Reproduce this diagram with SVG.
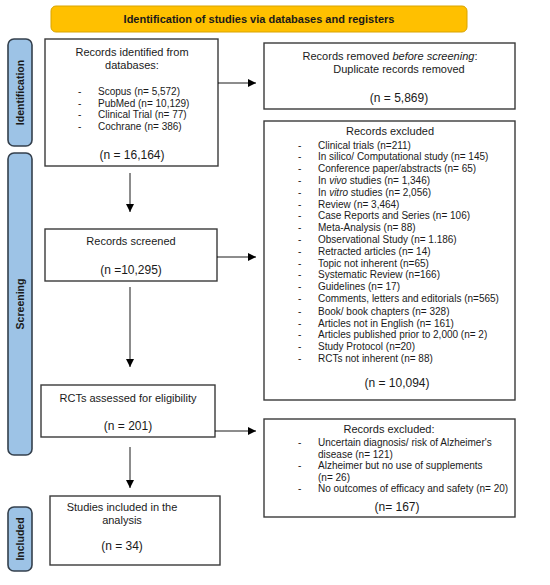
<svg xmlns="http://www.w3.org/2000/svg" width="550" height="585" viewBox="0 0 550 585">
<defs>
<marker id="ah" viewBox="0 0 10 10" refX="10" refY="5" markerWidth="8" markerHeight="8" markerUnits="userSpaceOnUse" orient="auto">
<path d="M0,0 L10,5 L0,10 z" fill="#000"/>
</marker>
<style>
text{font-family:"Liberation Sans",Arial,sans-serif;fill:#1a1a1a}
.box{fill:#fff;stroke:#3a3a3a;stroke-width:1.4}
.phase{fill:#9DC3E6;stroke:#34404d;stroke-width:1.6}
.plab{font-size:10.5px;font-weight:bold;text-anchor:middle}
.h{font-size:11px;text-anchor:middle}
.n{font-size:12px;text-anchor:middle}
.li{font-size:10px}
.c{fill:none;stroke:#000;stroke-width:0.9;marker-end:url(#ah)}
</style>
</defs>
<rect width="550" height="585" fill="#fff"/>

<g id="banner">
<rect x="51" y="6" width="416" height="26" rx="5" fill="#FFC000" stroke="#D9A400" stroke-width="1"/>
<text x="259" y="23" font-size="11" font-weight="bold" text-anchor="middle">Identification of studies via databases and registers</text>
</g>

<g id="phase-identification">
<rect class="phase" x="8" y="39" width="24" height="107" rx="6"/>
<text class="plab" transform="translate(24,92.5) rotate(-90)">Identification</text>
</g>
<g id="phase-screening">
<rect class="phase" x="8" y="153" width="24" height="302" rx="6"/>
<text class="plab" transform="translate(24,304) rotate(-90)">Screening</text>
</g>
<g id="phase-included">
<rect class="phase" x="8" y="507" width="24" height="64" rx="6"/>
<text class="plab" transform="translate(24,539) rotate(-90)">Included</text>
</g>

<g id="records-identified">
<rect class="box" x="45" y="39" width="173" height="127"/>
<text class="h" x="132" y="56">Records identified from</text>
<text class="h" x="132" y="69">databases:</text>
<text class="li" x="78" y="94.5">-</text><text class="li" x="98" y="94.5">Scopus (n= 5,572)</text>
<text class="li" x="78" y="106.5">-</text><text class="li" x="98" y="106.5">PubMed (n= 10,129)</text>
<text class="li" x="78" y="118">-</text><text class="li" x="98" y="118">Clinical Trial (n= 77)</text>
<text class="li" x="78" y="129.5">-</text><text class="li" x="98" y="129.5">Cochrane (n= 386)</text>
<text class="n" x="132" y="158.5">(n = 16,164)</text>
</g>

<g id="records-removed">
<rect class="box" x="264" y="43" width="251" height="66"/>
<text class="h" x="390" y="60">Records removed <tspan font-style="italic">before screening</tspan>:</text>
<text class="h" x="399" y="73">Duplicate records removed</text>
<text class="n" x="399" y="101.5">(n = 5,869)</text>
</g>

<g id="records-excluded-1">
<rect class="box" x="264" y="121" width="251" height="279"/>
<text class="h" x="390" y="135">Records excluded</text>
<text class="li" x="298" y="148.5">-</text><text class="li" x="318" y="148.5">Clinical trials (n=211)</text>
<text class="li" x="298" y="160.3">-</text><text class="li" x="318" y="160.3">In silico/ Computational study (n= 145)</text>
<text class="li" x="298" y="172.1">-</text><text class="li" x="318" y="172.1">Conference paper/abstracts (n= 65)</text>
<text class="li" x="298" y="183.9">-</text><text class="li" x="318" y="183.9">In <tspan font-style="italic">vivo</tspan> studies (n= 1,346)</text>
<text class="li" x="298" y="195.7">-</text><text class="li" x="318" y="195.7">In <tspan font-style="italic">vitro</tspan> studies (n= 2,056)</text>
<text class="li" x="298" y="207.5">-</text><text class="li" x="318" y="207.5">Review (n= 3,464)</text>
<text class="li" x="298" y="219.3">-</text><text class="li" x="318" y="219.3">Case Reports and Series (n= 106)</text>
<text class="li" x="298" y="231.1">-</text><text class="li" x="318" y="231.1">Meta-Analysis (n= 88)</text>
<text class="li" x="298" y="242.9">-</text><text class="li" x="318" y="242.9">Observational Study (n= 1.186)</text>
<text class="li" x="298" y="254.7">-</text><text class="li" x="318" y="254.7">Retracted articles (n= 14)</text>
<text class="li" x="298" y="266.5">-</text><text class="li" x="318" y="266.5">Topic not inherent (n=65)</text>
<text class="li" x="298" y="278.3">-</text><text class="li" x="318" y="278.3">Systematic Review (n=166)</text>
<text class="li" x="298" y="290.1">-</text><text class="li" x="318" y="290.1">Guidelines (n= 17)</text>
<text class="li" x="298" y="302.4">-</text><text class="li" x="318" y="302.4" font-size="10.3">Comments, letters and editorials (n=565)</text>
<text class="li" x="298" y="314.7">-</text><text class="li" x="318" y="314.7">Book/ book chapters (n= 328)</text>
<text class="li" x="298" y="326.5">-</text><text class="li" x="318" y="326.5">Articles not in English (n= 161)</text>
<text class="li" x="298" y="338.3">-</text><text class="li" x="318" y="338.3">Articles published prior to 2,000 (n= 2)</text>
<text class="li" x="298" y="350.1">-</text><text class="li" x="318" y="350.1">Study Protocol (n=20)</text>
<text class="li" x="298" y="361.9">-</text><text class="li" x="318" y="361.9">RCTs not inherent (n= 88)</text>
<text class="n" x="397" y="387">(n = 10,094)</text>
</g>

<g id="records-screened">
<rect class="box" x="45" y="229" width="172" height="52"/>
<text class="h" x="131" y="245">Records screened</text>
<text class="n" x="131" y="274">(n =10,295)</text>
</g>

<g id="rcts-assessed">
<rect class="box" x="41" y="385" width="174" height="52"/>
<text class="h" x="128" y="402">RCTs assessed for eligibility</text>
<text class="n" x="128" y="430">(n = 201)</text>
</g>

<g id="records-excluded-2">
<rect class="box" x="264" y="419" width="251" height="98"/>
<text class="h" x="389" y="433">Records excluded:</text>
<text class="li" x="298" y="446">-</text><text class="li" x="318" y="446">Uncertain diagnosis/ risk of Alzheimer's</text>
<text class="li" x="318" y="457.5">disease (n= 121)</text>
<text class="li" x="298" y="469">-</text><text class="li" x="318" y="469">Alzheimer but no use of supplements</text>
<text class="li" x="318" y="480.5">(n= 26)</text>
<text class="li" x="298" y="492">-</text><text class="li" x="318" y="492">No outcomes of efficacy and safety (n= 20)</text>
<text class="n" x="397" y="511">(n= 167)</text>
</g>

<g id="studies-included">
<rect class="box" x="50" y="496" width="170" height="69"/>
<text class="h" x="122" y="511">Studies included in the</text>
<text class="h" x="122" y="524">analysis</text>
<text class="n" x="122" y="550">(n = 34)</text>
</g>

<g id="connectors">
<line class="c" x1="218" y1="83" x2="256" y2="83"/>
<line class="c" x1="130" y1="173" x2="130" y2="212"/>
<line class="c" x1="217" y1="257" x2="256" y2="257"/>
<line class="c" x1="130" y1="287" x2="130" y2="367"/>
<line class="c" x1="215" y1="431" x2="256" y2="431"/>
<line class="c" x1="130" y1="447" x2="130" y2="488"/>
</g>
</svg>
